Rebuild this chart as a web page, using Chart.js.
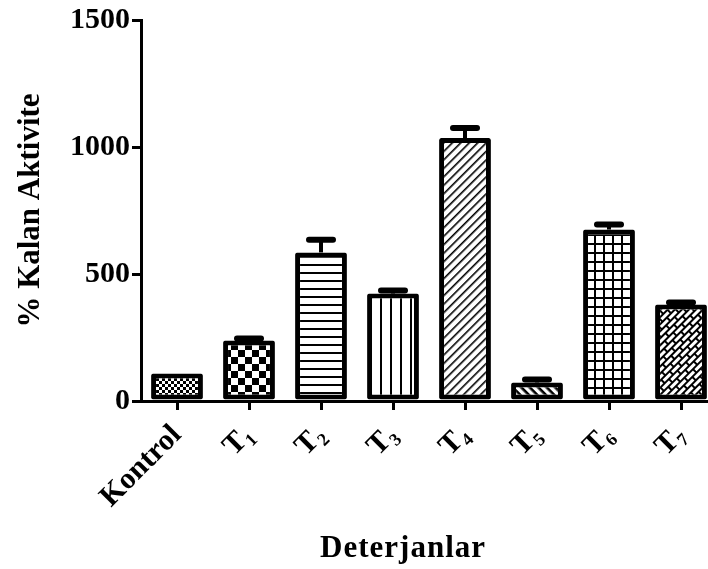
<!DOCTYPE html>
<html>
<head>
<meta charset="utf-8">
<script src="https://cdn.jsdelivr.net/npm/chart.js@4.4.0/dist/chart.umd.min.js"></script>
<style>
  html, body { margin: 0; padding: 0; background: #fff; overflow: hidden; }
  #wrap { width: 720px; height: 569px; }
</style>
</head>
<body>
<div id="wrap"><canvas id="barChart" width="720" height="569"></canvas></div>
<script>
const labels = ['Kontrol', 'T\u2081', 'T\u2082', 'T\u2083', 'T\u2084', 'T\u2085', 'T\u2086', 'T\u2087'];
const activity = [108, 238, 585, 423, 1035, 73, 675, 380];
const errors = [0, 8, 50, 12, 40, 12, 20, 8];
const yTicks = [0, 500, 1000, 1500];
const xTitle = 'Deterjanlar';

const helper = document.createElement('canvas').getContext('2d');

function makePattern(w, h, draw, angle) {
  const c = document.createElement('canvas');
  c.width = w; c.height = h;
  const g = c.getContext('2d');
  g.fillStyle = '#fff';
  g.fillRect(0, 0, w, h);
  g.fillStyle = '#000';
  draw(g, w, h);
  const p = helper.createPattern(c, 'repeat');
  if (angle) p.setTransform(new DOMMatrix().rotateSelf(angle));
  return p;
}

const patterns = [
  // fine checker
  makePattern(6, 6, (g) => { g.fillRect(0, 0, 3, 3); g.fillRect(3, 3, 3, 3); }),
  // big checker
  makePattern(14, 14, (g) => { g.fillRect(0, 0, 7, 7); g.fillRect(7, 7, 7, 7); }),
  // horizontal lines
  makePattern(8, 8, (g) => { g.fillRect(0, 0, 8, 2); }),
  // vertical lines
  makePattern(10, 10, (g) => { g.fillRect(0, 0, 2, 10); }),
  // diagonal /
  makePattern(1, 6, (g) => { g.fillRect(0, 0, 1, 1.6); }, -45),
  // diagonal \ thick
  makePattern(1, 6, (g) => { g.fillRect(0, 0, 1, 2.6); }, 45),
  // grid
  makePattern(9, 9, (g) => { g.fillRect(0, 0, 9, 2); g.fillRect(0, 0, 2, 9); }),
  // bricks along the / diagonal
  makePattern(12, 10, (g) => {
    g.fillRect(0, 0, 12, 2);
    g.fillRect(0, 5, 12, 2);
    g.fillRect(0, 0, 2, 5);
    g.fillRect(6, 5, 2, 5);
  }, -45)
];

const errorBars = {
  id: 'errorBars',
  afterDatasetsDraw(chart) {
    const ctx = chart.ctx;
    const meta = chart.getDatasetMeta(0);
    const y = chart.scales.y;
    ctx.save();
    ctx.strokeStyle = '#000';
    meta.data.forEach((bar, i) => {
      if (!errors[i]) return;
      const top = y.getPixelForValue(activity[i] + errors[i]);
      ctx.lineWidth = 4;
      ctx.lineCap = 'butt';
      ctx.beginPath();
      ctx.moveTo(bar.x, bar.y);
      ctx.lineTo(bar.x, top);
      ctx.stroke();
      ctx.lineWidth = 6;
      ctx.lineCap = 'round';
      ctx.beginPath();
      ctx.moveTo(bar.x - 12, top);
      ctx.lineTo(bar.x + 12, top);
      ctx.stroke();
    });
    ctx.restore();
  }
};

const font = 'Liberation Serif, Times New Roman, serif';

// x title sits left of the axis centre in the original figure
const xTitlePlugin = {
  id: 'xTitle',
  afterDraw(chart) {
    const ctx = chart.ctx;
    const a = chart.chartArea;
    ctx.save();
    ctx.fillStyle = '#000';
    ctx.font = 'bold 31px ' + font;
    ctx.letterSpacing = '1px';
    ctx.textAlign = 'center';
    ctx.textBaseline = 'alphabetic';
    ctx.fillText(xTitle, a.left + (a.right - a.left) * 0.455, a.bottom + 156);
    ctx.restore();
  }
};

new Chart(document.getElementById('barChart'), {
  type: 'bar',
  data: {
    labels: labels,
    datasets: [{
      data: activity,
      backgroundColor: patterns,
      borderColor: '#000',
      borderWidth: 5,
      borderRadius: 2,
      borderSkipped: false,
      barPercentage: 0.72,
      categoryPercentage: 1
    }]
  },
  options: {
    responsive: false,
    animation: false,
    events: [],
    layout: { padding: { top: 20, right: 3, left: 12, bottom: 0 } },
    plugins: { legend: { display: false }, tooltip: { enabled: false } },
    scales: {
      y: {
        min: 0,
        max: 1500,
        afterBuildTicks: (s) => { s.ticks = yTicks.map(v => ({ value: v })); },
        afterFit: (s) => { s.width = 129; },
        border: { display: true, color: '#000', width: 3 },
        grid: { drawOnChartArea: false, drawTicks: true, tickLength: 9, color: '#000', lineWidth: 3 },
        ticks: {
          color: '#000',
          padding: 2,
          callback: (v) => String(v),
          font: { family: font, size: 30, weight: 'bold' }
        },
        title: {
          display: true,
          text: '% Kalan Aktivite',
          color: '#000',
          padding: { top: 0, bottom: 0 },
          font: { family: font, size: 31, weight: 'bold' }
        }
      },
      x: {
        afterFit: (s) => { s.height = 168; },
        border: { display: true, color: '#000', width: 3 },
        grid: { offset: false, drawOnChartArea: false, drawTicks: true, tickLength: 9, color: '#000', lineWidth: 3 },
        ticks: {
          color: '#000',
          padding: 8,
          maxRotation: 45,
          minRotation: 45,
          autoSkip: false,
          font: { family: font, size: 30, weight: 'bold' }
        },
        title: { display: false }
      }
    }
  },
  plugins: [errorBars, xTitlePlugin]
});
</script>
</body>
</html>
